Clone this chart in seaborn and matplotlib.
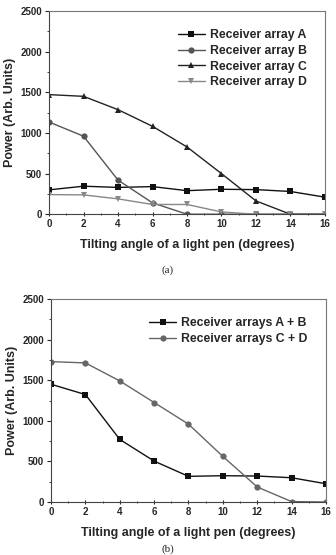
import matplotlib
matplotlib.use('Agg')
import matplotlib.pyplot as plt
from matplotlib.ticker import MultipleLocator
import seaborn as sns
import pandas as pd

angle = [0, 2, 4, 6, 8, 10, 12, 14, 16]

array_a = [300, 345, 330, 340, 290, 307, 303, 280, 210]
array_b = [1135, 960, 420, 140, 0, 0, 0, 0, 0]
array_c = [1472, 1451, 1287, 1082, 828, 500, 164, 0, 0]
array_d = [242, 238, 189, 120, 120, 28, 0, 0, 0]

arrays_ab = [1451, 1324, 771, 504, 316, 324, 320, 299, 225]
arrays_cd = [1730, 1714, 1492, 1226, 959, 562, 185, 5, 0]

sns.set_style('ticks')
plt.rcParams['font.family'] = ['Liberation Sans', 'DejaVu Sans']
plt.rcParams['font.weight'] = 'bold'

fig = plt.figure(figsize=(3.36, 5.55), dpi=100)
ax1 = fig.add_axes([0.146, 0.614, 0.821, 0.366])
ax2 = fig.add_axes([0.152, 0.0955, 0.818, 0.3655])


def draw(ax, series, styles):
    for name, vals in series.items():
        mk, col = styles[name]
        df = pd.DataFrame({'x': angle, 'y': vals})
        sns.lineplot(data=df, x='x', y='y', ax=ax, label=name, color=col,
                     marker=mk, markersize=4.5, markeredgewidth=0, lw=1)


draw(ax1, {'Receiver array A': array_a, 'Receiver array B': array_b,
           'Receiver array C': array_c, 'Receiver array D': array_d},
     {'Receiver array A': ('s', '#111111'), 'Receiver array B': ('o', '#555555'),
      'Receiver array C': ('^', '#222222'), 'Receiver array D': ('v', '#888888')})

draw(ax2, {'Receiver arrays A + B': arrays_ab, 'Receiver arrays C + D': arrays_cd},
     {'Receiver arrays A + B': ('s', '#111111'), 'Receiver arrays C + D': ('o', '#666666')})

for ax in (ax1, ax2):
    ax.set_xlim(0, 16)
    ax.set_ylim(0, 2500)
    ax.xaxis.set_major_locator(MultipleLocator(2))
    ax.xaxis.set_minor_locator(MultipleLocator(1))
    ax.yaxis.set_major_locator(MultipleLocator(500))
    ax.yaxis.set_minor_locator(MultipleLocator(250))
    ax.tick_params(which='major', length=3, width=0.8, labelsize=7, pad=2)
    ax.tick_params(which='minor', length=1.5, width=0.6)
    ax.tick_params(axis='x', which='both', direction='inout')
    for lab in ax.get_xticklabels() + ax.get_yticklabels():
        lab.set_fontweight('heavy')
    ax.set_xlabel('Tilting angle of a light pen (degrees)', fontsize=9,
                  fontweight='bold', labelpad=7)
    ax.set_ylabel('Power (Arb. Units)', fontsize=9, fontweight='bold', labelpad=3)
    for s in ('top', 'right'):
        ax.spines[s].set_color('#777777')
    ax.spines['left'].set_color('#444444')
    ax.spines['bottom'].set_color('#444444')
    leg = ax.legend(loc='upper right', frameon=False,
                    handlelength=2.2, handletextpad=0.4, labelspacing=0.3,
                    borderaxespad=1.1, prop={'weight': 'bold', 'size': 8.8})

fig.text(0.5, 1 - 270 / 555, '(a)', ha='center', va='center', fontsize=8,
         family=['Liberation Serif', 'DejaVu Serif'], fontweight='normal')
fig.text(0.5, 0.002, '(b)', ha='center', va='bottom', fontsize=8,
         family=['Liberation Serif', 'DejaVu Serif'], fontweight='normal')

fig.savefig('out.png', dpi=100)
